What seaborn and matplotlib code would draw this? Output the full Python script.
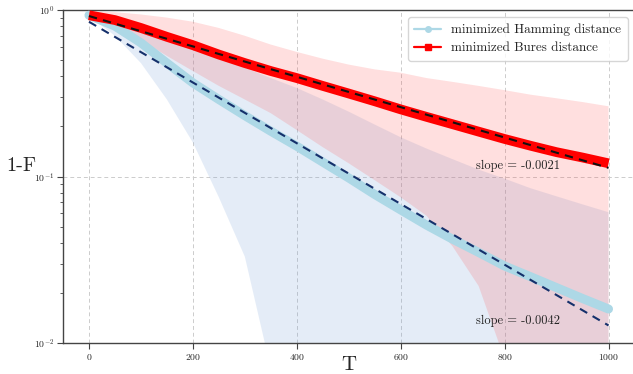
import numpy as np
import pandas as pd
import matplotlib
matplotlib.use("Agg")
import matplotlib.pyplot as plt
import seaborn as sns
from matplotlib.lines import Line2D

# ---------------- data ----------------
T = [0, 50, 100, 150, 200, 250, 300, 350, 400, 450, 500,
     550, 600, 650, 700, 750, 800, 850, 900, 950, 1000]

hamming_mean = [0.93, 0.80, 0.635, 0.48, 0.365, 0.29, 0.232, 0.187, 0.152, 0.122, 0.098,
                0.078, 0.063, 0.051, 0.042, 0.035, 0.029, 0.025, 0.0215, 0.0185, 0.016]
hamming_upper = [0.95, 0.90, 0.82, 0.71, 0.60, 0.52, 0.45, 0.39, 0.34, 0.29, 0.245,
                 0.205, 0.172, 0.147, 0.127, 0.11, 0.097, 0.085, 0.076, 0.068, 0.061]
hamming_lower = [0.92, 0.70, 0.48, 0.29, 0.16, 0.075, 0.033, 0.007, 0.001, 0.001, 0.001,
                 0.001, 0.001, 0.001, 0.001, 0.001, 0.001, 0.001, 0.001, 0.001, 0.001]

bures_mean = [0.93, 0.87, 0.78, 0.69, 0.615, 0.54, 0.48, 0.43, 0.39, 0.35, 0.315,
              0.283, 0.253, 0.228, 0.206, 0.186, 0.168, 0.153, 0.14, 0.13, 0.12]
bures_upper = [0.98, 0.97, 0.94, 0.90, 0.85, 0.78, 0.70, 0.62, 0.56, 0.51, 0.47,
               0.44, 0.42, 0.39, 0.37, 0.35, 0.33, 0.31, 0.295, 0.28, 0.264]
bures_lower = [0.90, 0.79, 0.66, 0.53, 0.43, 0.35, 0.29, 0.24, 0.19, 0.15, 0.12,
               0.095, 0.075, 0.058, 0.038, 0.022, 0.008, 0.002, 0.001, 0.001, 0.001]

hamming_fit_amp, hamming_slope = 0.85, -0.0042
bures_fit_amp, bures_slope = 0.92, -0.0021

labels = ["minimized Hamming distance", "minimized Bures distance"]
slope_texts = ["slope = -0.0042", "slope = -0.0021"]

# ---------------- style ----------------
sns.set_style("white")
plt.rcParams["font.family"] = ["cmr10", "DejaVu Serif"]
plt.rcParams["mathtext.fontset"] = "cm"
plt.rcParams["axes.formatter.use_mathtext"] = True
plt.rcParams["axes.unicode_minus"] = False

fig = plt.figure(figsize=(6.33, 3.74), dpi=100)
AX_W = 571.5
ax = fig.add_axes([63 / 633, 31 / 374, AX_W / 633, 333 / 374])

Tarr = np.array(T, dtype=float)
df = pd.DataFrame({"T": T, "ham": hamming_mean, "bur": bures_mean})
df["ham_fit"] = hamming_fit_amp * np.exp(hamming_slope * Tarr)
df["bur_fit"] = bures_fit_amp * np.exp(bures_slope * Tarr)

# bands
ax.fill_between(T, hamming_lower, hamming_upper, color="#7ba3d8", alpha=0.2, linewidth=0, zorder=1)
ax.fill_between(T, bures_lower, bures_upper, color="#ff3a3a", alpha=0.16, linewidth=0, zorder=1)

# main lines
sns.lineplot(data=df, x="T", y="ham", ax=ax, color="lightblue", linewidth=6.5,
             solid_capstyle="round", zorder=3, legend=False)
sns.lineplot(data=df, x="T", y="bur", ax=ax, color="red", linewidth=7,
             solid_capstyle="butt", zorder=3, legend=False)

# fits
sns.lineplot(data=df, x="T", y="ham_fit", ax=ax, color="#15306b", linewidth=1.5,
             linestyle=(0, (4, 3)), zorder=4, legend=False)
sns.lineplot(data=df, x="T", y="bur_fit", ax=ax, color="#111111", linewidth=1.5,
             linestyle=(0, (4, 3)), zorder=4, legend=False)

ax.set_yscale("log")
ax.set_ylim(0.01, 1.0)
ax.set_xlim(-50, 1050)
ax.set_xticks([0, 200, 400, 600, 800, 1000])

ax.text(745, 0.116, slope_texts[1], fontsize=9, ha="left", va="center", zorder=5)
ax.text(745, 0.0136, slope_texts[0], fontsize=9, ha="left", va="center", zorder=5)

ax.set_xlabel("T", fontsize=15)
ax.xaxis.set_label_coords(286 / AX_W, -13 / 333)
ax.set_ylabel("1-F", fontsize=14.5, rotation=0, va="center", ha="center")
ax.yaxis.set_label_coords(-42 / AX_W, 0.53)

ax.grid(True, which="major", linestyle=(0, (4, 3)), color="#cccccc", linewidth=0.7)
ax.tick_params(axis="both", which="major", labelsize=7, length=4, pad=2.5,
               color="#444444", direction="out")
ax.tick_params(axis="y", which="minor", length=2.5, color="#444444", direction="out")
ax.tick_params(left=True, bottom=True, which="both")
for s in ["left", "bottom", "top"]:
    ax.spines[s].set_color("#444444")
    ax.spines[s].set_linewidth(1.0)
ax.spines["right"].set_visible(False)

handles = [
    Line2D([0], [0], color="lightblue", linewidth=1.6, marker="o", markersize=4),
    Line2D([0], [0], color="red", linewidth=1.6, marker="s", markersize=4),
]
ax.legend(handles, labels, loc="upper right", bbox_to_anchor=(565 / AX_W, 0.979),
          borderaxespad=0, fontsize=9.5, frameon=True, fancybox=True, framealpha=0.8,
          edgecolor="#cccccc", handlelength=2.0, borderpad=0.5, labelspacing=0.45)

fig.savefig("out.png", dpi=100)
